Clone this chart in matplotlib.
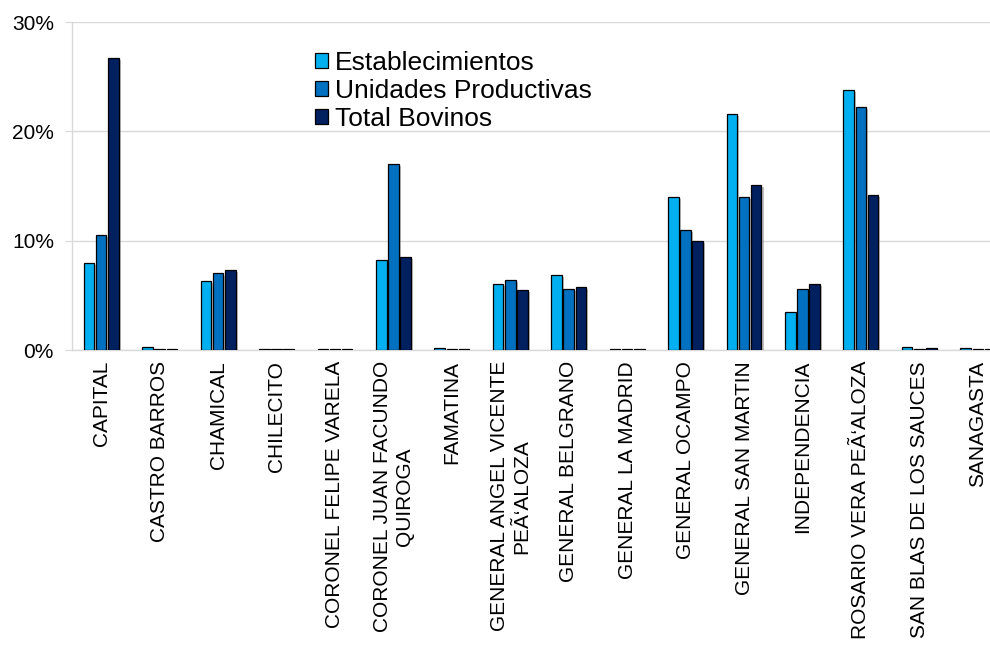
import matplotlib
matplotlib.use('Agg')
import matplotlib.pyplot as plt
import matplotlib.patheffects as pe
from matplotlib.ticker import FuncFormatter
import numpy as np

plt.rcParams['font.family'] = ['Liberation Sans', 'DejaVu Sans']

# departamentos de La Rioja
departamentos = [
    'CAPITAL', 'CASTRO BARROS', 'CHAMICAL', 'CHILECITO',
    'CORONEL FELIPE VARELA', 'CORONEL JUAN FACUNDO\nQUIROGA', 'FAMATINA',
    'GENERAL ANGEL VICENTE\nPEÃ‘ALOZA', 'GENERAL BELGRANO', 'GENERAL LA MADRID',
    'GENERAL OCAMPO', 'GENERAL SAN MARTIN', 'INDEPENDENCIA',
    'ROSARIO VERA PEÃ‘ALOZA', 'SAN BLAS DE LOS SAUCES', 'SANAGASTA',
]

# participacion de cada departamento (%)
establecimientos = [8.0, 0.3, 6.3, 0.08, 0.08, 8.2, 0.2, 6.0, 6.9, 0.1,
                    14.0, 21.6, 3.5, 23.8, 0.3, 0.15]
unidades_productivas = [10.5, 0.1, 7.0, 0.08, 0.08, 17.0, 0.08, 6.4, 5.6, 0.08,
                        11.0, 14.0, 5.6, 22.2, 0.1, 0.08]
total_bovinos = [26.7, 0.1, 7.3, 0.08, 0.08, 8.5, 0.08, 5.5, 5.8, 0.08,
                 10.0, 15.1, 6.0, 14.2, 0.2, 0.08]

series = [
    ('Establecimientos', establecimientos, '#00B0F0'),
    ('Unidades Productivas', unidades_productivas, '#0070C0'),
    ('Total Bovinos', total_bovinos, '#002060'),
]

fig = plt.figure(figsize=(9.9, 6.49), dpi=100)
ax = fig.add_axes([72/990, 1-350/649, 935/990, 328/649])

x = np.arange(len(departamentos))
ancho = 0.18
paso = 0.208
sombra = [pe.SimplePatchShadow(offset=(1.5, -1.5), shadow_rgbFace='#808080', alpha=0.5),
          pe.Normal()]

for i, (nombre, vals, color) in enumerate(series):
    bars = ax.bar(x + (i-1)*paso, vals, ancho, color=color, edgecolor='black',
                  linewidth=0.9, label=nombre, zorder=3)
    for b in bars:
        b.set_path_effects(sombra)

ax.set_xlim(-0.5, len(departamentos)-0.5)
ax.set_ylim(0, 30)
ax.set_yticks([0, 10, 20, 30])
ax.yaxis.set_major_formatter(FuncFormatter(lambda v, p: '%d%%' % v))
ax.grid(axis='y', color='#D9D9D9', linewidth=1, zorder=0)

ax.set_xticks(x)
ax.set_xticklabels(departamentos, rotation=90, fontsize=15,
                   multialignment='center')
ax.tick_params(axis='x', length=0, pad=8)
ax.tick_params(axis='y', labelsize=15, length=5, color='#D9D9D9', pad=8)

for s in ['top', 'right']:
    ax.spines[s].set_visible(False)
for s in ['left', 'bottom']:
    ax.spines[s].set_color('#D9D9D9')
    ax.spines[s].set_linewidth(1)

leg = ax.legend(loc='upper left', bbox_to_anchor=(315/990, 1-51/649),
                bbox_transform=fig.transFigure, frameon=False, fontsize=19,
                handlelength=0.5, handleheight=0.5, handletextpad=0.25,
                labelspacing=0.15, borderpad=0, borderaxespad=0)
for h in leg.legend_handles:
    h.set_path_effects([])

fig.savefig('out.png', dpi=100)
